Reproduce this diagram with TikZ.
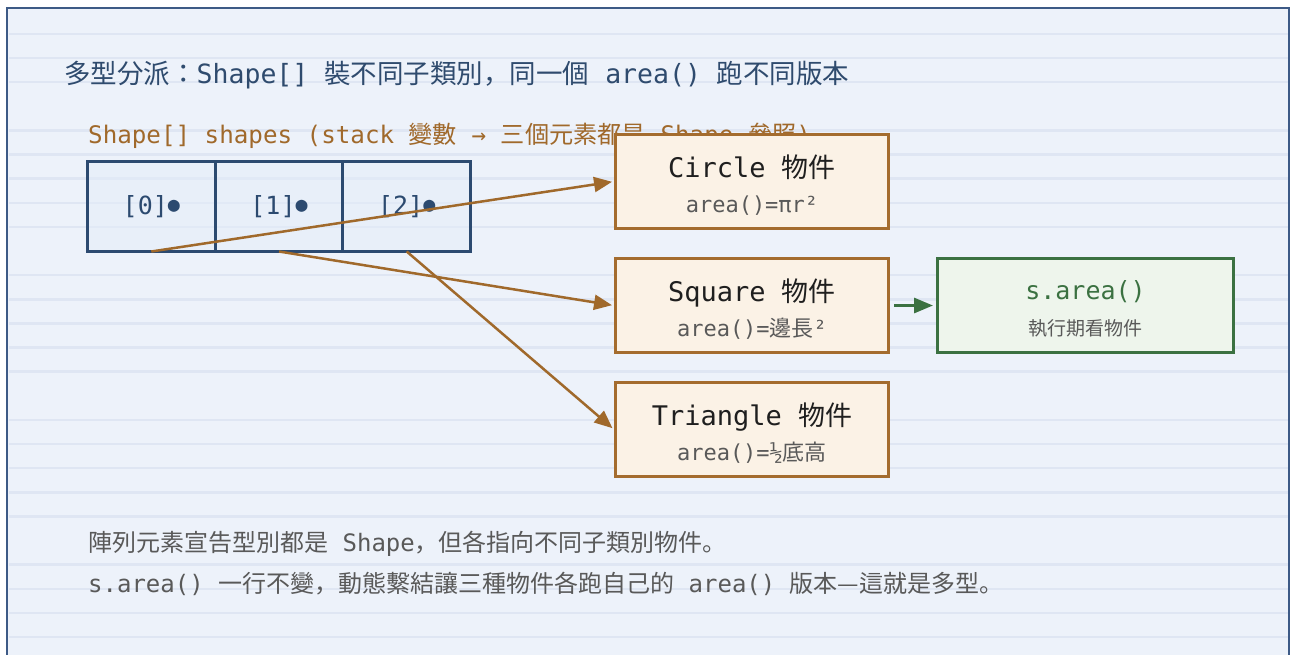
\documentclass[tikz,border=0pt]{standalone}
\usepackage{fontspec}
\usetikzlibrary{positioning,arrows.meta}

\newfontfamily\monofont{DejaVu Sans Mono}
\newfontfamily\zhfont{Noto Sans CJK JP}

\definecolor{pagebg}{HTML}{EDF2FA}
\definecolor{ruleline}{HTML}{DFE6F3}
\definecolor{framecol}{HTML}{3D5A86}
\definecolor{titleblue}{HTML}{2F4B6E}
\definecolor{refbrown}{HTML}{A0692B}
\definecolor{cellfill}{HTML}{E4EDF9}
\definecolor{cellline}{HTML}{2C4A70}
\definecolor{objfill}{HTML}{FBF2E6}
\definecolor{objline}{HTML}{A46C2E}
\definecolor{callfill}{HTML}{EEF5EC}
\definecolor{callline}{HTML}{3B7141}
\definecolor{graytext}{HTML}{595959}
\definecolor{inktext}{HTML}{1F1F1F}

% first line of an object box (strut pushes both lines a little down)
\newcommand{\objname}[1]{{\fontsize{27}{35}\selectfont\color{inktext}\rule{0pt}{30pt}#1}}
% small pointer dot in the array cells
\newcommand{\refdot}{\raisebox{3pt}{\fontsize{20}{30}\selectfont●}}

\begin{document}
\begin{tikzpicture}[
    x=1pt, y=1pt,
    heading/.style={anchor=base west, inner sep=0pt, text=titleblue, font=\monofont\fontsize{26.5}{30}\selectfont},
    arraylabel/.style={heading, text=refbrown, font=\monofont\fontsize{24.2}{28}\selectfont},
    note/.style={heading, text=graytext, font=\monofont\fontsize{24}{28}\selectfont},
    cell/.style={draw=cellline, line width=3pt, fill=cellfill, fill opacity=0.5, text opacity=1, minimum width=127.7pt, minimum height=90pt, outer sep=0pt, inner sep=0pt, text=cellline, font=\monofont\fontsize{25}{30}\selectfont},
    objbox/.style={draw=objline, fill=objfill, line width=3pt, minimum width=273pt, minimum height=94pt, align=center, inner sep=0pt, text=graytext, font=\monofont\fontsize{22}{35}\selectfont},
    callbox/.style={objbox, draw=callline, fill=callfill, minimum width=296pt, font=\monofont\fontsize{19}{36}\selectfont},
    refarrow/.style={-{Triangle[length=18pt, width=15pt]}, line width=2.5pt, draw=refbrown, shorten >=2pt},
    callarrow/.style={-{Triangle[length=19pt, width=15pt]}, line width=3pt, draw=callline, shorten <=4pt, shorten >=3pt}
]

% page and ruled paper
\fill[white] (0,0) rectangle (1290,-654);
\useasboundingbox (0,0) rectangle (1290,-654);
\fill[pagebg] (7,-8) rectangle (1289,-660);
\foreach \k in {0,...,25} {
    \pgfmathtruncatemacro\r{mod(\k,6)}
    \ifnum\r=3 \else
        \draw[ruleline, line width=2.5pt] (9,{-34-24.12*\k}) -- (1288,{-34-24.12*\k});
    \fi
}
\draw[framecol, line width=2pt] (7,-660) -- (7,-8) -- (1289,-8) -- (1289,-660);

% Heading
\node[heading] (title) at (64,-83) {{\zhfont 多型分派：}Shape[] {\zhfont 裝不同子類別，同一個} area() {\zhfont 跑不同版本}};

% The array on the stack
\node[arraylabel] (arrlabel) at (88,-143) {Shape[] shapes (stack {\zhfont 變數} → {\zhfont 三個元素都是} Shape {\zhfont 參照})};
\node[cell] (cell0) at (151.3,-206.5) {[0]\refdot};
\node[cell, right=0pt of cell0] (cell1) {[1]\refdot};
\node[cell, right=0pt of cell1] (cell2) {[2]\refdot};

% Objects on the heap
\node[objbox] (circle) at (752,-181.5) {\objname{Circle {\zhfont 物件}}\\area()=πr²};
\node[objbox, below=27pt of circle] (square) {\objname{Square {\zhfont 物件}}\\area()={\zhfont 邊長}²};
\node[objbox, below=27pt of square] (triangle) {\objname{Triangle {\zhfont 物件}}\\area()=½{\zhfont 底高}};

% Call site
\node[callbox, right=46pt of square] (sarea) {{\fontsize{25}{36}\selectfont\color{callline}\rule{0pt}{26pt}s.area()}\\{\zhfont 執行期看物件}};

% References
\draw[refarrow] (cell0.south) -- (circle.west);
\draw[refarrow] (cell1.south) -- (square.west);
\draw[refarrow] (cell2.south) -- (triangle.west);
\draw[callarrow] (square.east) -- (sarea.west);

% Notes
\node[note] (note1) at (88,-551) {{\zhfont 陣列元素宣告型別都是} Shape{\zhfont ，但各指向不同子類別物件。}};
\node[note] (note2) at (88,-592) {s.area() {\zhfont 一行不變，動態繫結讓三種物件各跑自己的} area() {\zhfont 版本—這就是多型。}};

\end{tikzpicture}
\end{document}
